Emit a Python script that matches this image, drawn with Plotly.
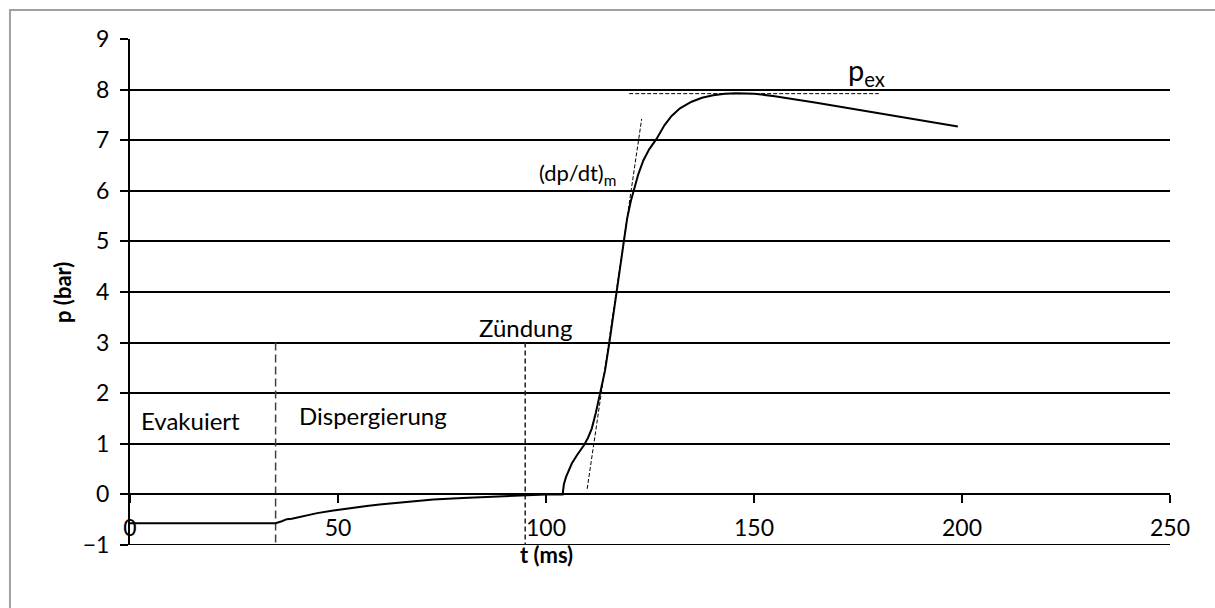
import plotly.graph_objects as go

# Pressure curve p(t)
t_ms = [0, 35, 36.5, 37.7, 38.9, 40, 42.5, 45, 48.9, 52, 56.9, 60, 65, 70, 72.9, 80, 85, 88.9, 92, 97,
        100, 104, 104.3, 104.8, 105.4, 106.2, 107.4, 108.3, 109.2, 110.1, 111, 112, 113, 114.2, 115.2,
        116.2, 117.4, 118.6, 119.5, 120.4, 121.2, 122.2, 123.4, 124.8, 126.6, 128.5, 130.2, 132.2,
        135, 137.5, 140.2, 143, 145.8, 150, 155, 160, 165, 170, 175, 180, 185, 190, 195, 199]
p_bar = [-0.57, -0.57, -0.53, -0.49, -0.48, -0.46, -0.41, -0.37, -0.32, -0.28, -0.23, -0.2, -0.16,
         -0.13, -0.1, -0.07, -0.05, -0.03, -0.02, 0.0,
         0.0, 0.0, 0.2, 0.34, 0.47, 0.61, 0.77, 0.87, 0.98, 1.12, 1.3, 1.62, 2.0, 2.45, 2.98,
         3.55, 4.25, 5.0, 5.45, 5.8, 6.05, 6.33, 6.6, 6.82, 7.03, 7.3, 7.48, 7.63,
         7.76, 7.84, 7.89, 7.92, 7.93, 7.92, 7.87, 7.81, 7.74, 7.67, 7.6, 7.53, 7.46, 7.39, 7.33, 7.27]

# Phase boundaries (vertical dashed lines)
t_evac_end = [35, 35]
t_ignition = [95, 95]
p_vline = [3, -1]

# Tangent (dp/dt)_m
t_tangent = [109.9, 123.0]
p_tangent = [0.11, 7.42]

# Maximum pressure line p_ex
t_pex = [120, 180]
p_pex = [7.92, 7.92]

x_ticks = [0, 50, 100, 150, 200, 250]
y_ticks = [-1, 0, 1, 2, 3, 4, 5, 6, 7, 8, 9]

FONT = "Lato"

fig = go.Figure()
fig.add_trace(go.Scatter(x=t_evac_end, y=p_vline, mode="lines",
                         line=dict(color="#404040", width=1.5, dash="8px,4px"), hoverinfo="skip"))
fig.add_trace(go.Scatter(x=t_ignition, y=p_vline, mode="lines",
                         line=dict(color="#202020", width=1.5, dash="5px,3px"), hoverinfo="skip"))
fig.add_trace(go.Scatter(x=t_tangent, y=p_tangent, mode="lines",
                         line=dict(color="black", width=1, dash="4px,2px"), hoverinfo="skip"))
fig.add_trace(go.Scatter(x=t_pex, y=p_pex, mode="lines",
                         line=dict(color="black", width=1, dash="4px,2px"), hoverinfo="skip"))
fig.add_trace(go.Scatter(x=t_ms, y=p_bar, mode="lines",
                         line=dict(color="black", width=2)))

fig.update_layout(
    width=1215, height=608,
    margin=dict(l=130, r=45, t=39, b=63),
    paper_bgcolor="white", plot_bgcolor="white",
    showlegend=False,
    font=dict(family=FONT, size=23, color="black"),
)
fig.update_xaxes(range=[0, 250], tickvals=x_ticks, anchor="free", position=0.1,
                 showline=True, linecolor="black", linewidth=2,
                 ticks="outside", ticklen=8, tickwidth=2, tickcolor="black",
                 showgrid=False, zeroline=False, tickfont=dict(size=23, family=FONT),
                 ticklabelstandoff=5)
fig.update_yaxes(range=[-1, 9], tickvals=y_ticks, showgrid=True, gridcolor="black", gridwidth=2,
                 showline=True, linecolor="black", linewidth=2,
                 ticks="outside", ticklen=8, tickwidth=2, tickcolor="black",
                 zeroline=False, tickfont=dict(size=23, family=FONT), ticklabelstandoff=6)

# bottom gridline at the lowest y tick (plotly hides the edge gridline)
fig.add_shape(type="line", xref="paper", yref="y", x0=0, x1=1, y0=y_ticks[0], y1=y_ticks[0],
              line=dict(color="black", width=2), layer="below")

ann = [
    dict(x=14.6, y=1.46, text="Evakuiert", xref="x", yref="y"),
    dict(x=58.4, y=1.56, text="Dispergierung", xref="x", yref="y"),
    dict(x=95, y=3.3, text="Zündung", xref="x", yref="y"),
    dict(x=107.6, y=6.33, text="(dp/dt)<sub>m</sub>", xref="x", yref="y", font=dict(size=22, family=FONT)),
    dict(x=177.0, y=8.36, text="p<sub>ex</sub>", xref="x", yref="y", font=dict(size=29, family=FONT)),
    dict(x=100, y=-0.018, text="<b>t (ms)</b>", xref="x", yref="paper", font=dict(size=22, family=FONT)),
    dict(x=-0.0654, y=0.5, text="<b>p (bar)</b>", xref="paper", yref="paper", textangle=-90,
         font=dict(size=22, family=FONT)),
]
for a in ann:
    a.setdefault("font", dict(size=24, family=FONT))
    fig.add_annotation(showarrow=False, xanchor="center", yanchor="middle", **a)

# outer chart border (top and left visible)
fig.add_shape(type="rect", xref="paper", yref="paper", x0=-0.1154, y0=-0.25, x1=1.2, y1=1.0573,
              line=dict(color="#a0a0a0", width=2), layer="below")

fig.write_html("out.html")
